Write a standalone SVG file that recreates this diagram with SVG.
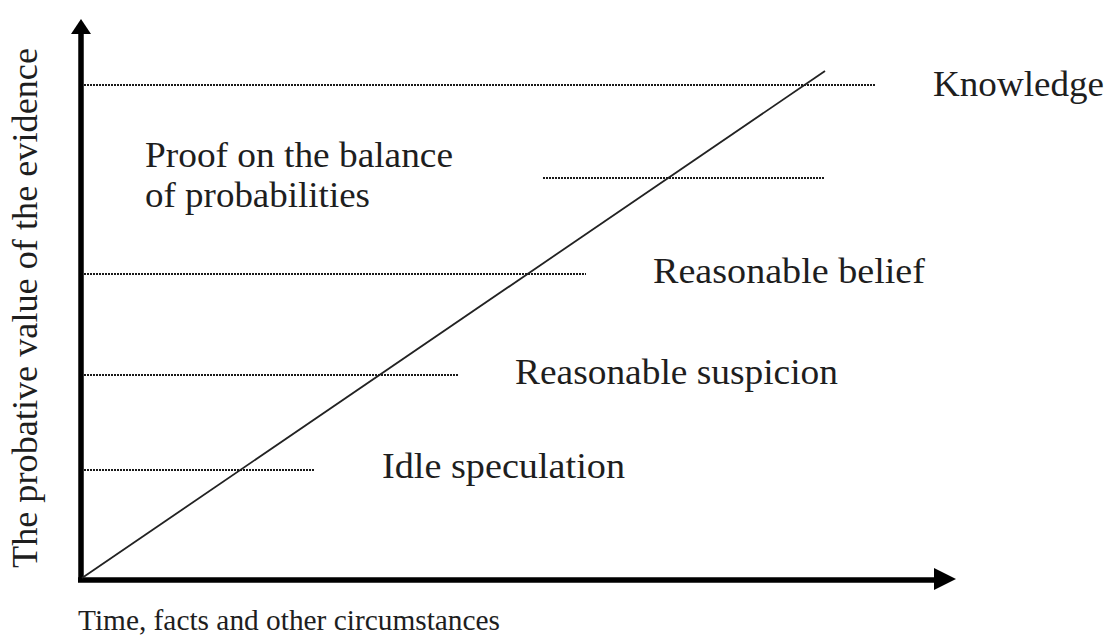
<svg xmlns="http://www.w3.org/2000/svg" width="1111" height="644" viewBox="0 0 1111 644">
<style>
.t{font-family:"Liberation Serif","Times New Roman",serif;font-size:35px;fill:#1e1e1e}
.s{font-size:30px}
.d{stroke:#1a1a1a;stroke-width:2.2;stroke-dasharray:2 1;fill:none}
.ax{stroke:#000;stroke-width:5.5;fill:none}
</style>
<rect width="1111" height="644" fill="#fff"/>
<g id="connectors">
<line class="ax" x1="81" y1="580" x2="81" y2="32"/>
<polygon points="81,19 71,34 91,34" fill="#000"/>
<line class="ax" x1="78" y1="580" x2="936" y2="580"/>
<polygon points="956,579 934,568 934,590" fill="#000"/>
<line x1="82" y1="578" x2="825" y2="71" stroke="#222" stroke-width="1.8"/>
<line class="d" x1="84" y1="85" x2="875" y2="85"/>
<line class="d" x1="543" y1="178" x2="825" y2="178"/>
<line class="d" x1="84" y1="274" x2="586" y2="274"/>
<line class="d" x1="84" y1="375" x2="458" y2="375"/>
<line class="d" x1="84" y1="470" x2="315" y2="470"/>
</g>
<g id="knowledge"><text class="t" x="933" y="96" textLength="171" lengthAdjust="spacingAndGlyphs">Knowledge</text></g>
<g id="proof"><text class="t" x="145" y="167" textLength="308" lengthAdjust="spacingAndGlyphs">Proof on the balance</text><text class="t" x="145" y="207" textLength="225" lengthAdjust="spacingAndGlyphs">of probabilities</text></g>
<g id="belief"><text class="t" x="653" y="283" textLength="272" lengthAdjust="spacingAndGlyphs">Reasonable belief</text></g>
<g id="suspicion"><text class="t" x="515" y="384" textLength="323" lengthAdjust="spacingAndGlyphs">Reasonable suspicion</text></g>
<g id="idle"><text class="t" x="382" y="478" textLength="243" lengthAdjust="spacingAndGlyphs">Idle speculation</text></g>
<g id="xlabel"><text class="t s" x="78" y="630" textLength="422" lengthAdjust="spacingAndGlyphs">Time, facts and other circumstances</text></g>
<g id="ylabel"><text class="t" transform="translate(37,568) rotate(-90)" x="0" y="0" textLength="520" lengthAdjust="spacingAndGlyphs">The probative value of the evidence</text></g>
</svg>
